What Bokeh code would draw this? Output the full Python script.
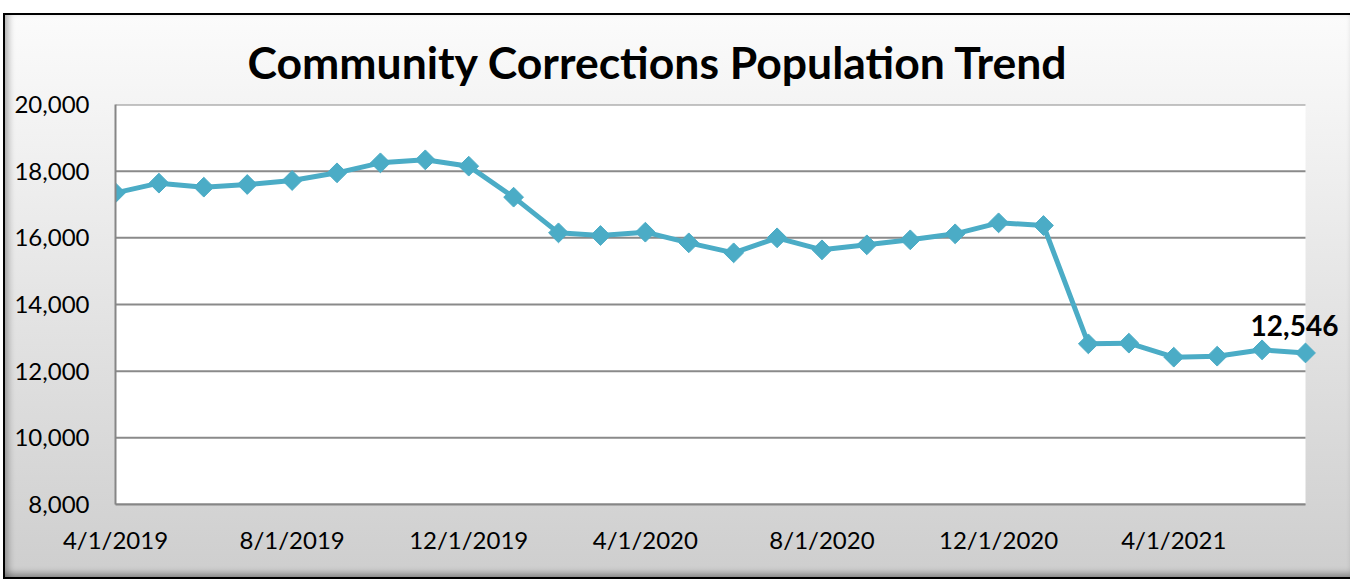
import pandas as pd
from bokeh.plotting import figure
from bokeh.models import Range1d, FixedTicker, NumeralTickFormatter, Label, BoxAnnotation
from bokeh.embed import file_html
from bokeh.resources import INLINE

# ---- data ----
months = pd.date_range("2019-04-01", "2021-07-01", freq="MS")
population = [17350, 17640, 17520, 17600, 17720, 17950, 18250, 18340, 18150, 17220,
              16150, 16070, 16170, 15850, 15550, 16000, 15640, 15790, 15940, 16120,
              16450, 16370, 12820, 12840, 12420, 12450, 12640, 12546]
tick_dates = ["2019-04-01", "2019-08-01", "2019-12-01", "2020-04-01",
              "2020-08-01", "2020-12-01", "2021-04-01"]
tick_labels = ["4/1/2019", "8/1/2019", "12/1/2019", "4/1/2020",
               "8/1/2020", "12/1/2020", "4/1/2021"]
y_ticks = [8000, 10000, 12000, 14000, 16000, 18000, 20000]
title_text = "Community Corrections Population Trend"


def ms(d):
    return float(pd.Timestamp(d).value // 10**6)


x_ms = [ms(d) for d in months]
tick_ms = [ms(d) for d in tick_dates]

# plot area: data part is 1190 px wide, frame extends 37 px further right
span = x_ms[-1] - x_ms[0]
x_end = x_ms[-1] + span * 37.0 / 1190.0

p = figure(width=1345, height=562, x_axis_type="datetime",
           output_backend="svg", toolbar_location=None,
           x_range=Range1d(x_ms[0], x_end),
           y_range=Range1d(y_ticks[0], y_ticks[-1]),
           min_border_left=110, min_border_right=8,
           min_border_top=89, min_border_bottom=73)

p.styles = {
    "margin-top": "15px",
    "margin-left": "5px",
    "background": "linear-gradient(to bottom, #fbfbfb 0%, #f6f6f6 12%, #cecece 100%)",
    "outline": "2px solid #000000",
    "box-shadow": "inset 7px 0px 6px -3px rgba(0,0,0,0.25), inset 0px -7px 6px -3px rgba(0,0,0,0.3)",
}
p.border_fill_color = None
p.background_fill_color = None
p.outline_line_color = None

# white plot area limited to the data span
p.add_layout(BoxAnnotation(left=x_ms[0], right=x_ms[-1], bottom=y_ticks[0], top=y_ticks[-1],
                           fill_color="#ffffff", fill_alpha=1.0, line_color=None,
                           level="image"))

# title
p.title.text = title_text
p.title.text_font = "Lato"
p.title.text_font_style = "bold"
p.title.text_font_size = "44.5px"
p.title.text_color = "#000000"
p.title.align = "left"
p.title.offset = 132
p.title.standoff = 33

# axes
for ax in (p.xaxis[0], p.yaxis[0]):
    ax.axis_line_color = "#868686"
    ax.axis_line_width = 2
    ax.major_tick_line_color = None
    ax.minor_tick_line_color = None
    ax.major_tick_out = 0
    ax.major_tick_in = 0
    ax.major_label_text_font = "Lato"
    ax.major_label_text_font_size = "24px"
    ax.major_label_text_color = "#000000"

p.yaxis.ticker = FixedTicker(ticks=y_ticks)
p.yaxis.formatter = NumeralTickFormatter(format="0,0")
p.yaxis.major_label_standoff = 26

p.xaxis.ticker = FixedTicker(ticks=tick_ms)
p.xaxis.major_label_overrides = {t: lab for t, lab in zip(tick_ms, tick_labels)}
p.xaxis.major_label_standoff = 20
p.xaxis.bounds = (x_ms[0], x_ms[-1])

# horizontal gridlines only across the data span
p.xgrid.grid_line_color = None
p.ygrid.grid_line_color = None
grid = p.segment(x0=[x_ms[0]] * len(y_ticks), x1=[x_ms[-1]] * len(y_ticks),
                 y0=y_ticks, y1=y_ticks, line_color="#8a8a8a", line_width=2)
grid.level = "underlay"

# series
color = "#4BACC6"
p.line(x_ms, population, line_color=color, line_width=5)
p.scatter(x_ms, population, marker="square", angle=0.785398, size=14,
          fill_color=color, line_color=color, line_width=1)

# last value label
p.add_layout(Label(x=x_ms[-1], y=population[-1], text=f"{population[-1]:,}",
                   x_offset=-11, y_offset=27, text_align="center",
                   text_baseline="alphabetic", text_font="Lato",
                   text_font_style="bold", text_font_size="28px",
                   text_color="#000000"))

open("out.html", "w").write(file_html(p, INLINE))
